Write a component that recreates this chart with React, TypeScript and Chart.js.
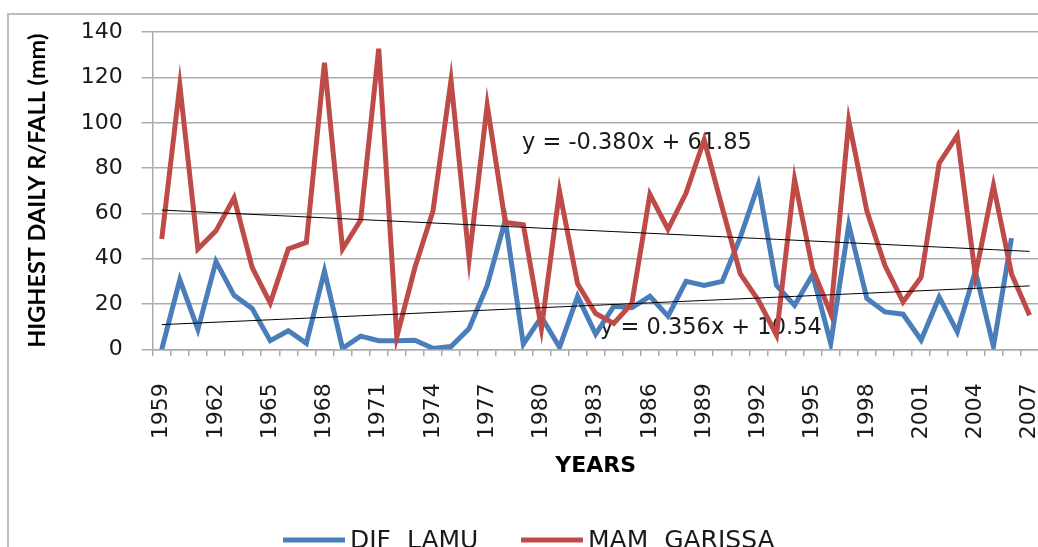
import React, { useEffect, useRef } from "react";
import { Chart, registerables } from "chart.js";

Chart.register(...registerables);

const years = [
  "1959", "1960", "1961", "1962", "1963", "1964", "1965", "1966", "1967", "1968",
  "1969", "1970", "1971", "1972", "1973", "1974", "1975", "1976", "1977", "1978",
  "1979", "1980", "1981", "1982", "1983", "1984", "1985", "1986", "1987", "1988",
  "1989", "1990", "1991", "1992", "1993", "1994", "1995", "1996", "1997", "1998",
  "1999", "2000", "2001", "2002", "2003", "2004", "2005", "2006", "2007",
];

const djfLamu: (number | null)[] = [
  0, 30.7, 8.8, 38.8, 23.8, 18, 3.8, 8.2, 2.6, 34.5,
  0.4, 5.8, 3.8, 3.8, 4, 0.4, 1.2, 9.2, 28.2, 57,
  2.3, 14.3, 0.9, 23.4, 6.7, 19, 18.4, 23.4, 14.6, 30,
  28.2, 30, 49.4, 72.8, 28.2, 19.4, 33, 2.6, 55, 22.4,
  16.5, 15.5, 4.1, 23, 7.7, 34.5, 1.2, 49.1, null,
];

const mamGarissa: number[] = [
  48.7, 116.6, 44.3, 52.3, 66.9, 36.2, 20.4, 44.3, 47.2, 126.5,
  44.3, 57, 132.7, 5.5, 36, 61, 118.8, 39.9, 107.8, 56,
  55, 9.2, 69.8, 28.9, 15.8, 11.4, 20.2, 68.4, 53, 69,
  92.5, 62.5, 33.3, 21.6, 6.3, 75, 35.5, 15.8, 100.8, 61,
  37, 20.9, 31.8, 82.2, 94.4, 32.6, 72.3, 33.3, 15,
];

const seriesLabels = ["DJF  LAMU", "MAM  GARISSA"];
const trendSlopes = [0.356, -0.38];
const trendIntercepts = [10.54, 61.85];
const trendLabels = ["y = 0.356x + 10.54", "y = -0.380x + 61.85"];
const yTicks = [0, 20, 40, 60, 80, 100, 120, 140];

const BLUE = "#4A7EBB";
const RED = "#BE4B48";
const GRID = "#ababab";
const TEXT = "#1a1a1a";

const trendLine = (i: number) => years.map((_, k) => trendSlopes[i] * (k + 1) + trendIntercepts[i]);

export default function App() {
  const ref = useRef<HTMLCanvasElement>(null);

  useEffect(() => {
    const canvas = ref.current;
    if (!canvas) return;

    const decor = {
      id: "decor",
      beforeDraw(chart: any) {
        const { ctx, width, height } = chart;
        ctx.save();
        ctx.fillStyle = "#ffffff";
        ctx.fillRect(0, 0, width, height);
        ctx.restore();
      },
      beforeDatasetsDraw(chart: any) {
        const { ctx } = chart;
        ctx.save();
        ctx.fillStyle = TEXT;
        ctx.font = "22.5px 'DejaVu Sans'";
        ctx.textBaseline = "middle";
        ctx.textAlign = "left";
        ctx.fillText(trendLabels[1], 522, 143);
        ctx.fillText(trendLabels[0], 600, 328);
        ctx.restore();
      },
      afterDraw(chart: any) {
        const { ctx } = chart;
        ctx.save();
        ctx.strokeStyle = "#bdbdbd";
        ctx.lineWidth = 2;
        ctx.strokeRect(8, 14, 2000, 2000);
        const items = [
          { x: 283, color: BLUE, text: seriesLabels[0] },
          { x: 521, color: RED, text: seriesLabels[1] },
        ];
        ctx.font = "25px 'DejaVu Sans'";
        ctx.textBaseline = "alphabetic";
        ctx.textAlign = "left";
        for (const it of items) {
          ctx.strokeStyle = it.color;
          ctx.lineWidth = 5;
          ctx.beginPath();
          ctx.moveTo(it.x, 540);
          ctx.lineTo(it.x + 62, 540);
          ctx.stroke();
          ctx.fillStyle = TEXT;
          ctx.fillText(it.text, it.x + 67, 548);
        }
        ctx.restore();
      },
    };

    const chart = new Chart(canvas, {
      type: "line",
      data: {
        labels: years,
        datasets: [
          {
            label: seriesLabels[0],
            data: djfLamu,
            borderColor: BLUE,
            backgroundColor: BLUE,
            borderWidth: 5,
            pointRadius: 0,
            tension: 0,
            order: 3,
          },
          {
            label: seriesLabels[1],
            data: mamGarissa,
            borderColor: RED,
            backgroundColor: RED,
            borderWidth: 5,
            pointRadius: 0,
            tension: 0,
            order: 2,
          },
          {
            label: "trend DJF",
            data: trendLine(0),
            borderColor: "#000000",
            borderWidth: 1,
            pointRadius: 0,
            tension: 0,
            order: 1,
          },
          {
            label: "trend MAM",
            data: trendLine(1),
            borderColor: "#000000",
            borderWidth: 1,
            pointRadius: 0,
            tension: 0,
            order: 0,
          },
        ],
      },
      options: {
        responsive: false,
        animation: false,
        events: [],
        layout: { padding: { left: 0, top: 30, right: 0, bottom: 0 } },
        plugins: {
          legend: { display: false },
          tooltip: { enabled: false },
          title: { display: false },
        },
        scales: {
          x: {
            type: "category",
            offset: true,
            grid: {
              drawOnChartArea: false,
              drawTicks: true,
              tickLength: 7,
              color: GRID,
              lineWidth: 1.5,
              offset: true,
            },
            border: { display: true, color: GRID, width: 1.5 },
            ticks: {
              autoSkip: false,
              maxRotation: 90,
              minRotation: 90,
              padding: 27,
              color: TEXT,
              font: { family: "'DejaVu Sans'", size: 22 },
              callback: (_v: any, i: number) => (i % 3 === 0 ? years[i] : ""),
            },
            title: {
              display: true,
              text: "YEARS",
              color: "#000000",
              font: { family: "'DejaVu Sans'", size: 22, weight: "bold" },
              padding: { top: 0, bottom: 68 },
            },
            afterFit: (s: any) => {
              s.height = 197.7;
            },
          },
          y: {
            min: yTicks[0],
            max: yTicks[yTicks.length - 1],
            afterBuildTicks: (s: any) => {
              s.ticks = yTicks.map((v) => ({ value: v }));
            },
            grid: { color: GRID, lineWidth: 1.5, tickLength: 11, drawTicks: true },
            border: { display: true, color: GRID, width: 1.5 },
            ticks: {
              padding: 19,
              color: TEXT,
              font: { family: "'DejaVu Sans'", size: 22 },
            },
            title: {
              display: true,
              text: "HIGHEST DAILY R/FALL (mm)",
              color: "#000000",
              font: { family: "Lato", size: 23.5, weight: "bold" },
              padding: { top: 23, bottom: 0 },
            },
            afterFit: (s: any) => {
              s.width = 152.7;
            },
          },
        },
      },
      plugins: [decor],
    } as any);

    return () => chart.destroy();
  }, []);

  return (
    <div
      style={{
        position: "fixed",
        left: 0,
        top: 0,
        width: 1038,
        height: 547,
        overflow: "hidden",
        background: "#fff",
      }}
    >
      <canvas ref={ref} width={1083} height={547} style={{ display: "block", width: 1083, height: 547 }} />
    </div>
  );
}
